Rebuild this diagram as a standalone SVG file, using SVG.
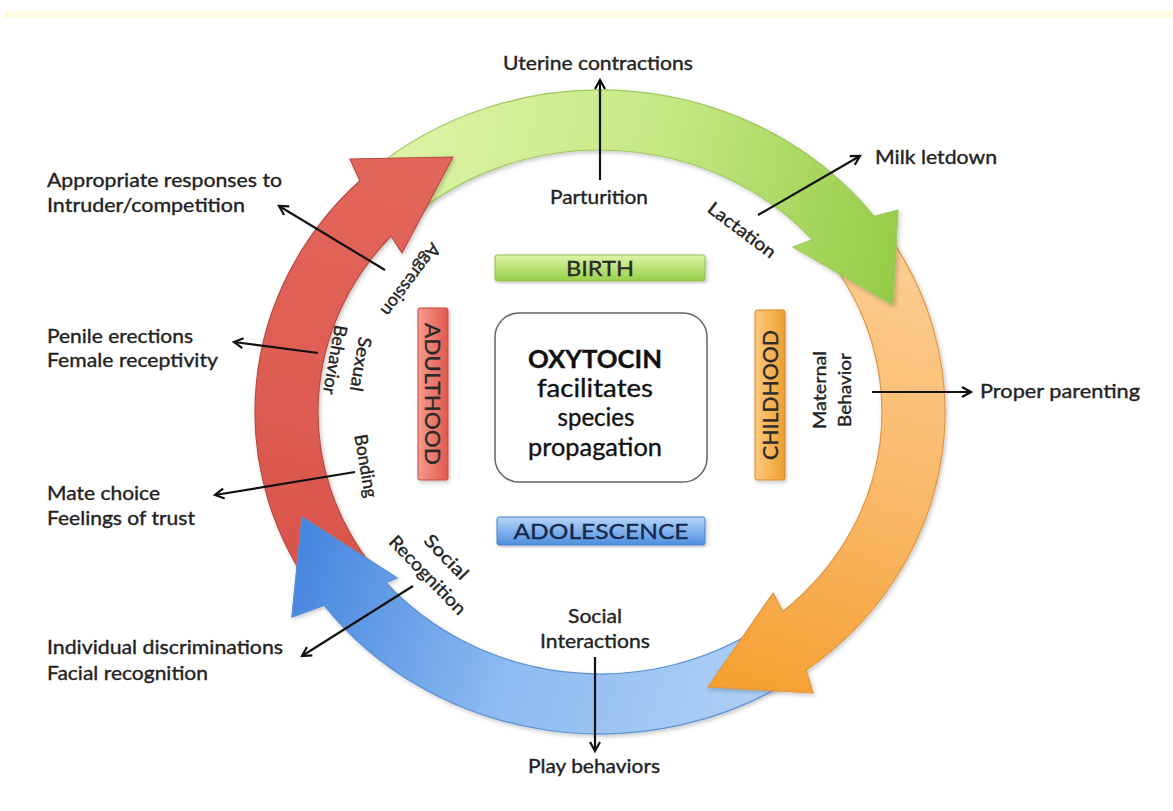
<svg xmlns="http://www.w3.org/2000/svg" width="1173" height="811" viewBox="0 0 1173 811">
  <defs>
    <style>
      .t { font-family: Lato, "Liberation Sans", sans-serif; font-size: 19px; fill: #222; stroke: #222; stroke-width: 0.35px; }
      .r { font-size: 18px; }
      .bx { font-size: 22px; fill: #2a2a2a; stroke: #2a2a2a; }
      .ct { font-size: 25px; fill: #111; stroke: #111; }
      .navy { fill: #16284c; stroke: #16284c; }
      .conn line { stroke: #111; stroke-width: 2.2; fill: none; marker-end: url(#arr); }
      .ring { stroke-width: 1.2; stroke-linejoin: round; }
    </style>
    <marker id="arr" markerUnits="userSpaceOnUse" markerWidth="16" markerHeight="16" viewBox="0 0 16 16" refX="12" refY="8" orient="auto">
      <path d="M3,3 L12,8 L3,13" fill="none" stroke="#111" stroke-width="2.2"/>
    </marker>
    <filter id="sh" x="-10%" y="-10%" width="120%" height="120%">
      <feDropShadow dx="1.5" dy="2" stdDeviation="2" flood-color="#000" flood-opacity="0.22"/>
    </filter>
    <linearGradient id="gGreen" gradientUnits="userSpaceOnUse" x1="380" y1="170" x2="900" y2="290">
      <stop offset="0" stop-color="#def4a8"/>
      <stop offset="0.5" stop-color="#c6e884"/>
      <stop offset="1" stop-color="#93cb45"/>
    </linearGradient>
    <linearGradient id="gOrange" gradientUnits="userSpaceOnUse" x1="900" y1="230" x2="740" y2="690">
      <stop offset="0" stop-color="#fccf95"/>
      <stop offset="0.55" stop-color="#f9b766"/>
      <stop offset="1" stop-color="#f5a030"/>
    </linearGradient>
    <linearGradient id="gBlue" gradientUnits="userSpaceOnUse" x1="800" y1="690" x2="300" y2="540">
      <stop offset="0" stop-color="#b3d3f6"/>
      <stop offset="0.55" stop-color="#8dbaf0"/>
      <stop offset="1" stop-color="#4585de"/>
    </linearGradient>
    <linearGradient id="gRed" gradientUnits="userSpaceOnUse" x1="310" y1="600" x2="420" y2="170">
      <stop offset="0" stop-color="#d9544c"/>
      <stop offset="1" stop-color="#e3665b"/>
    </linearGradient>
    <linearGradient id="bGreen" x1="0" y1="0" x2="0" y2="1">
      <stop offset="0" stop-color="#dcf5a6"/>
      <stop offset="1" stop-color="#99cf4a"/>
    </linearGradient>
    <linearGradient id="bBlue" x1="0" y1="0" x2="0" y2="1">
      <stop offset="0" stop-color="#b6d6f8"/>
      <stop offset="1" stop-color="#4e8ee0"/>
    </linearGradient>
    <linearGradient id="bOrange" x1="0" y1="0" x2="1" y2="0">
      <stop offset="0" stop-color="#fbca80"/>
      <stop offset="1" stop-color="#ef9e2e"/>
    </linearGradient>
    <linearGradient id="bRed" x1="0" y1="0" x2="1" y2="0">
      <stop offset="0" stop-color="#f49c8e"/>
      <stop offset="1" stop-color="#e0584c"/>
    </linearGradient>
  </defs>

  <rect width="1173" height="811" fill="#fff"/>
  <rect x="4" y="11" width="1169" height="7" fill="#fffbe3"/>

  <!-- life-cycle ring: four curved block arrows -->
  <g id="cycle">
    <path id="arc-adolescence" class="ring" filter="url(#sh)" fill="url(#gBlue)" stroke="#5a8fd6"
      d="M797.9,675.8 A345,322 0 0 1 324.1,605.3 L292,617 L302,517 L397,578 L385.9,582.5 A282,262 0 0 0 761.8,626.6 Z"/>
    <path id="arc-childhood" class="ring" filter="url(#sh)" fill="url(#gOrange)" stroke="#e09640"
      d="M879.1,222.7 A345,322 0 0 1 806.2,670.2 L813,693 L708,687 L773,593 L782.8,611.5 A282,262 0 0 0 828.1,258 Z"/>
    <path id="arc-birth" class="ring" filter="url(#sh)" fill="url(#gGreen)" stroke="#a0c860"
      d="M369.2,172.7 A345,322 0 0 1 874.1,216.4 L898,210 L893,305 L793,247 L812.5,239.8 A282,262 0 0 0 411.3,217.3 Z"/>
    <path id="arc-adulthood" class="ring" filter="url(#sh)" fill="url(#gRed)" stroke="#b84a42"
      d="M320.9,601.3 A345,322 0 0 1 359.9,180.8 L350,159 L453,157 L402,253 L391.1,236 A282,262 0 0 0 371.9,566 Z"/>
    <!-- adolescence head sits over the adulthood tail -->
    <path fill="url(#gBlue)" d="M324.1,605.3 L292,617 L302,517 L397,578 L385.9,582.5 Z"/>
    <path class="ring" fill="none" stroke="#5a8fd6" d="M324.1,605.3 L292,617 L302,517 L397,578 L385.9,582.5"/>
  </g>

  <!-- stage boxes -->
  <g id="box-birth">
    <rect x="495" y="255" width="210" height="26" rx="2" fill="url(#bGreen)" stroke="#8fbf4a" stroke-width="1" filter="url(#sh)"/>
    <text class="t bx" x="600" y="276" text-anchor="middle" textLength="68" lengthAdjust="spacingAndGlyphs">BIRTH</text>
  </g>
  <g id="box-adolescence">
    <rect x="497" y="517" width="208" height="28" rx="2" fill="url(#bBlue)" stroke="#4a80c8" stroke-width="1" filter="url(#sh)"/>
    <text class="t bx navy" x="601" y="539" text-anchor="middle" textLength="175" lengthAdjust="spacingAndGlyphs">ADOLESCENCE</text>
  </g>
  <g id="box-childhood">
    <rect x="755" y="310" width="30" height="170" rx="2" fill="url(#bOrange)" stroke="#d98a28" stroke-width="1" filter="url(#sh)"/>
    <text class="t bx" transform="translate(770,395) rotate(-90)" x="0" y="7.7" text-anchor="middle" textLength="130" lengthAdjust="spacingAndGlyphs">CHILDHOOD</text>
  </g>
  <g id="box-adulthood">
    <rect x="418" y="308" width="30" height="172" rx="2" fill="url(#bRed)" stroke="#c8483e" stroke-width="1" filter="url(#sh)"/>
    <text class="t bx" transform="translate(433,394) rotate(90)" x="0" y="7.7" text-anchor="middle" textLength="142" lengthAdjust="spacingAndGlyphs">ADULTHOOD</text>
  </g>

  <!-- central statement -->
  <g id="oxytocin">
    <rect x="495" y="313" width="212" height="169" rx="24" fill="#fff" stroke="#666" stroke-width="1.5"/>
    <text class="t ct" x="595" y="368" text-anchor="middle" font-weight="bold" textLength="134" lengthAdjust="spacingAndGlyphs">OXYTOCIN</text>
    <text class="t ct" x="595" y="397" text-anchor="middle" textLength="116" lengthAdjust="spacingAndGlyphs">facilitates</text>
    <text class="t ct" x="596" y="426" text-anchor="middle" textLength="77" lengthAdjust="spacingAndGlyphs">species</text>
    <text class="t ct" x="595" y="456" text-anchor="middle" textLength="134" lengthAdjust="spacingAndGlyphs">propagation</text>
  </g>

  <!-- behaviours on the ring -->
  <g id="lbl-parturition"><text class="t" x="599" y="204" text-anchor="middle" textLength="98" lengthAdjust="spacingAndGlyphs">Parturition</text></g>
  <g id="lbl-lactation"><text class="t r" transform="translate(742,230) rotate(37)" x="0" y="6.3" text-anchor="middle" textLength="80" lengthAdjust="spacingAndGlyphs">Lactation</text></g>
  <g id="lbl-maternal" transform="translate(832,390) rotate(-90)">
    <text class="t r" x="0" y="-6.2" text-anchor="middle" textLength="78" lengthAdjust="spacingAndGlyphs">Maternal</text>
    <text class="t r" x="0" y="18.8" text-anchor="middle" textLength="74" lengthAdjust="spacingAndGlyphs">Behavior</text>
  </g>
  <g id="lbl-social-interactions">
    <text class="t" x="595" y="623" text-anchor="middle" textLength="54" lengthAdjust="spacingAndGlyphs">Social</text>
    <text class="t" x="595" y="648" text-anchor="middle" textLength="110" lengthAdjust="spacingAndGlyphs">Interactions</text>
  </g>
  <g id="lbl-social-recognition" transform="translate(437,566) rotate(46)">
    <text class="t r" x="0" y="-6.7" text-anchor="middle" textLength="55" lengthAdjust="spacingAndGlyphs">Social</text>
    <text class="t r" x="0" y="19.3" text-anchor="middle" textLength="102" lengthAdjust="spacingAndGlyphs">Recognition</text>
  </g>
  <g id="lbl-bonding"><text class="t r" transform="translate(366,466) rotate(80)" x="0" y="6.3" text-anchor="middle" textLength="64" lengthAdjust="spacingAndGlyphs">Bonding</text></g>
  <g id="lbl-sexual" transform="translate(348,362) rotate(100)">
    <text class="t r" x="0" y="-6.7" text-anchor="middle" textLength="55" lengthAdjust="spacingAndGlyphs">Sexual</text>
    <text class="t r" x="0" y="19.3" text-anchor="middle" textLength="70" lengthAdjust="spacingAndGlyphs">Behavior</text>
  </g>
  <g id="lbl-aggression"><text class="t r" transform="translate(411,280) rotate(127)" x="0" y="6.3" text-anchor="middle" textLength="86" lengthAdjust="spacingAndGlyphs">Aggression</text></g>

  <!-- outcomes -->
  <g id="out-uterine"><text class="t" x="503" y="70" textLength="190" lengthAdjust="spacingAndGlyphs">Uterine contractions</text></g>
  <g id="out-milk"><text class="t" x="875" y="164" textLength="122" lengthAdjust="spacingAndGlyphs">Milk letdown</text></g>
  <g id="out-parenting"><text class="t" x="980" y="398" textLength="160" lengthAdjust="spacingAndGlyphs">Proper parenting</text></g>
  <g id="out-play"><text class="t" x="594" y="773" text-anchor="middle" textLength="132" lengthAdjust="spacingAndGlyphs">Play behaviors</text></g>
  <g id="out-discrimination">
    <text class="t" x="47" y="654" textLength="236" lengthAdjust="spacingAndGlyphs">Individual discriminations</text>
    <text class="t" x="47" y="680" textLength="161" lengthAdjust="spacingAndGlyphs">Facial recognition</text>
  </g>
  <g id="out-mate">
    <text class="t" x="47" y="500" textLength="113" lengthAdjust="spacingAndGlyphs">Mate choice</text>
    <text class="t" x="47" y="525" textLength="148" lengthAdjust="spacingAndGlyphs">Feelings of trust</text>
  </g>
  <g id="out-erections">
    <text class="t" x="47" y="343" textLength="146" lengthAdjust="spacingAndGlyphs">Penile erections</text>
    <text class="t" x="47" y="367" textLength="171" lengthAdjust="spacingAndGlyphs">Female receptivity</text>
  </g>
  <g id="out-intruder">
    <text class="t" x="47" y="187" textLength="235" lengthAdjust="spacingAndGlyphs">Appropriate responses to</text>
    <text class="t" x="47" y="212" textLength="198" lengthAdjust="spacingAndGlyphs">Intruder/competition</text>
  </g>

  <!-- connectors -->
  <g id="connectors" class="conn">
    <line x1="600" y1="180" x2="600" y2="80"/>
    <line x1="758" y1="215" x2="860" y2="156"/>
    <line x1="872" y1="392" x2="971" y2="392"/>
    <line x1="595" y1="657" x2="595" y2="751"/>
    <line x1="413" y1="586" x2="302" y2="656"/>
    <line x1="355" y1="472" x2="215" y2="495"/>
    <line x1="318" y1="353" x2="234" y2="342"/>
    <line x1="385" y1="270" x2="279" y2="206"/>
  </g>
</svg>
